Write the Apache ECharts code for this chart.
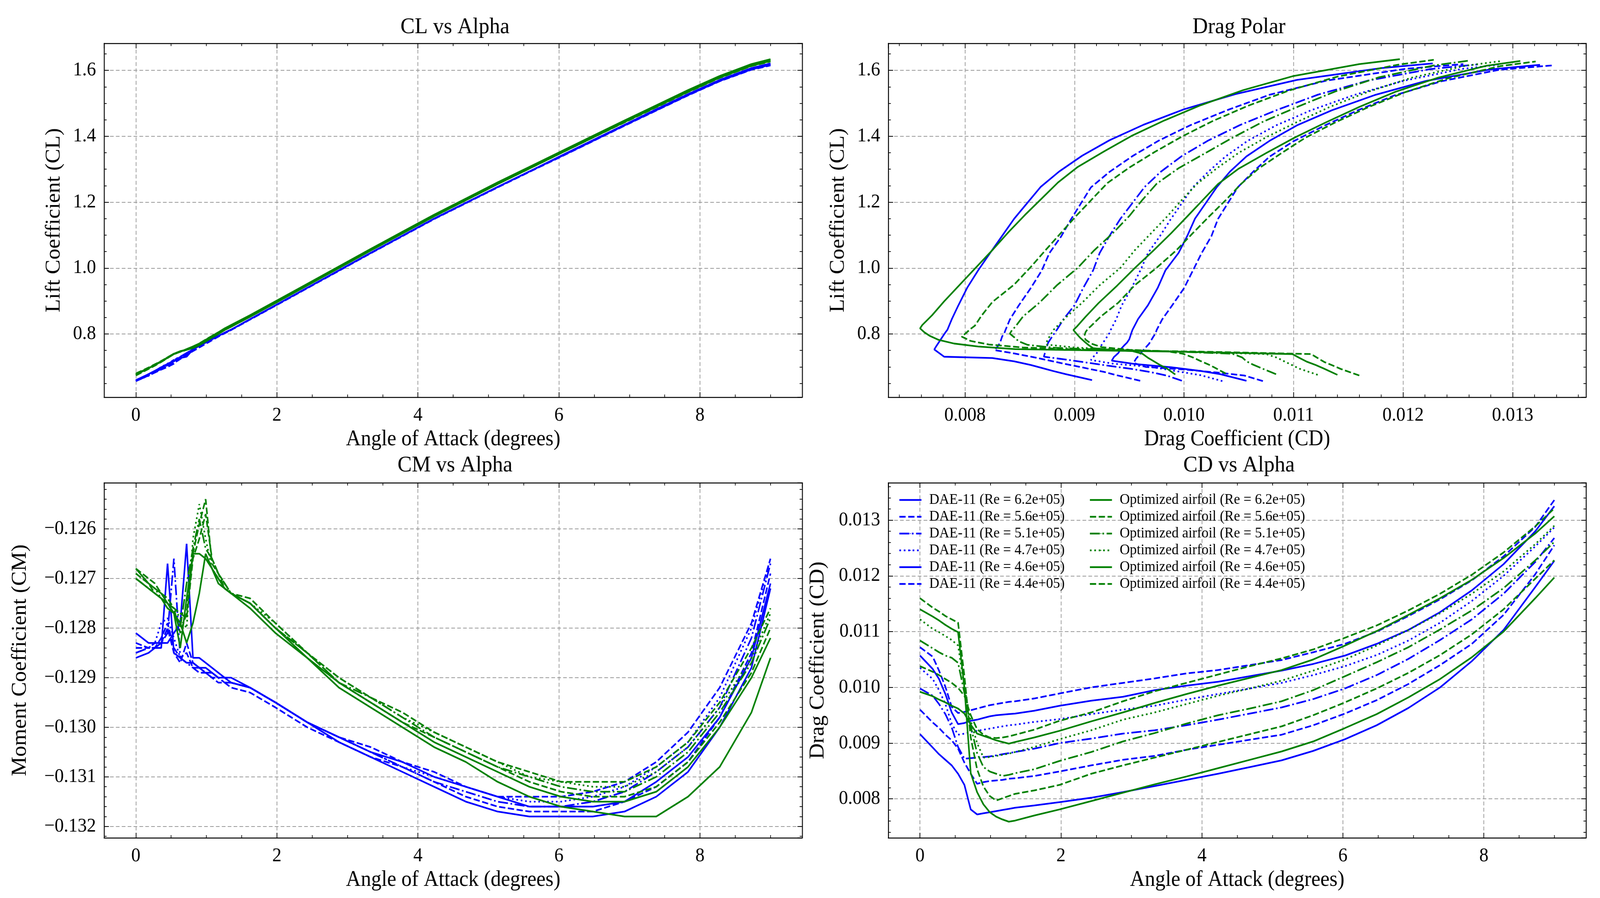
<!DOCTYPE html>
<html>
<head>
<meta charset="utf-8">
<script src="https://cdn.jsdelivr.net/npm/echarts@6/dist/echarts.min.js"></script>
<style>
  html, body { margin: 0; padding: 0; background: #fff; overflow: hidden; }
  #main { width: 4350px; height: 2299px; transform-origin: 0 0; }
</style>
</head>
<body>
<div id="main"></div>
<script>
// angle of attack samples (degrees), shared by every run
var alpha = [0, 0.18, 0.27, 0.36, 0.45, 0.54, 0.63, 0.72, 0.81, 0.9, 0.99, 1.08, 1.17, 1.26, 1.35,
  1.62, 1.98, 2.43, 2.88, 3.33, 3.78, 4.23, 4.68, 5.13, 5.58, 6.03, 6.48, 6.93, 7.38, 7.83, 8.28, 8.73, 9.0];

// DAE-11
var dae62Cl = [0.660, 0.678, 0.688, 0.697, 0.706, 0.717, 0.727, 0.731, 0.753, 0.764, 0.774, 0.784, 0.794, 0.804, 0.813,
  0.845, 0.887, 0.940, 0.993, 1.046, 1.098, 1.150, 1.198, 1.246, 1.293, 1.341, 1.388, 1.435, 1.482, 1.528, 1.571, 1.607, 1.621];
var dae62Cd = [0.00916, 0.00892, 0.00880, 0.00870, 0.00860, 0.00845, 0.00825, 0.00781, 0.00772, 0.00774, 0.00776, 0.00778, 0.00780, 0.00782, 0.00784,
  0.00788, 0.00794, 0.00802, 0.00812, 0.00823, 0.00834, 0.00845, 0.00857, 0.00869, 0.00886, 0.00907, 0.00932, 0.00963, 0.01000, 0.01047, 0.01103, 0.01180, 0.01227];
var dae62Cm = [-0.1281, -0.1283, -0.1283, -0.1283, -0.1283, -0.1281, -0.1279, -0.1263, -0.1286, -0.1286, -0.1287, -0.1288, -0.1289, -0.1290, -0.1290,
  -0.1292, -0.1295, -0.1299, -0.1303, -0.1306, -0.1309, -0.1312, -0.1315, -0.1317, -0.1318, -0.1318, -0.1318, -0.1317, -0.1314, -0.1309, -0.1300, -0.1288, -0.1272];

var dae56Cl = [0.658, 0.676, 0.685, 0.693, 0.700, 0.710, 0.728, 0.741, 0.751, 0.763, 0.773, 0.783, 0.793, 0.803, 0.812,
  0.844, 0.886, 0.939, 0.992, 1.045, 1.097, 1.149, 1.197, 1.245, 1.292, 1.340, 1.387, 1.434, 1.480, 1.526, 1.569, 1.605, 1.619];
var dae56Cd = [0.00960, 0.00937, 0.00927, 0.00915, 0.00905, 0.00890, 0.00865, 0.00845, 0.00827, 0.00830, 0.00832, 0.00833, 0.00834, 0.00836, 0.00837,
  0.00841, 0.00849, 0.00860, 0.00870, 0.00877, 0.00888, 0.00897, 0.00906, 0.00915, 0.00932, 0.00953, 0.00977, 0.01006, 0.01040, 0.01078, 0.01130, 0.01203, 0.01255];
var dae56Cm = [-0.1283, -0.1284, -0.1284, -0.1282, -0.1279, -0.1284, -0.1286, -0.1285, -0.1288, -0.1289, -0.1289, -0.1290, -0.1291, -0.1291, -0.1292,
  -0.1293, -0.1296, -0.1300, -0.1303, -0.1306, -0.1308, -0.1311, -0.1314, -0.1316, -0.1317, -0.1317, -0.1317, -0.1315, -0.1312, -0.1307, -0.1298, -0.1285, -0.1269];

var dae51Cl = [0.658, 0.673, 0.684, 0.694, 0.705, 0.722, 0.731, 0.742, 0.753, 0.764, 0.774, 0.784, 0.794, 0.804, 0.813,
  0.845, 0.887, 0.940, 0.993, 1.046, 1.098, 1.150, 1.198, 1.246, 1.293, 1.340, 1.387, 1.434, 1.480, 1.526, 1.569, 1.604, 1.618];
var dae51Cd = [0.00998, 0.00985, 0.00970, 0.00952, 0.00928, 0.00893, 0.00872, 0.00873, 0.00874, 0.00875, 0.00876, 0.00878, 0.00880, 0.00882, 0.00884,
  0.00890, 0.00900, 0.00908, 0.00917, 0.00923, 0.00932, 0.00942, 0.00953, 0.00964, 0.00979, 0.00998, 0.01022, 0.01051, 0.01085, 0.01122, 0.01168, 0.01225, 0.01268];
var dae51Cm = [-0.1285, -0.1284, -0.1284, -0.1283, -0.1281, -0.1266, -0.1286, -0.1287, -0.1288, -0.1288, -0.1289, -0.1290, -0.1290, -0.1291, -0.1291,
  -0.1292, -0.1295, -0.1299, -0.1302, -0.1305, -0.1308, -0.1311, -0.1313, -0.1315, -0.1316, -0.1316, -0.1315, -0.1313, -0.1309, -0.1304, -0.1296, -0.1282, -0.1267];

var dae47Cl = [0.657, 0.675, 0.686, 0.700, 0.710, 0.721, 0.730, 0.740, 0.752, 0.763, 0.773, 0.783, 0.793, 0.803, 0.812,
  0.844, 0.886, 0.939, 0.992, 1.045, 1.097, 1.149, 1.197, 1.245, 1.292, 1.339, 1.386, 1.433, 1.479, 1.525, 1.568, 1.604, 1.617];
var dae47Cd = [0.01035, 0.01015, 0.00995, 0.00970, 0.00935, 0.00915, 0.00917, 0.00920, 0.00922, 0.00924, 0.00926, 0.00928, 0.00930, 0.00932, 0.00933,
  0.00938, 0.00943, 0.00952, 0.00960, 0.00967, 0.00978, 0.00988, 0.00998, 0.01008, 0.01022, 0.01038, 0.01058, 0.01084, 0.01116, 0.01155, 0.01200, 0.01253, 0.01287];
var dae47Cm = [-0.1285, -0.1284, -0.1283, -0.1279, -0.1278, -0.1282, -0.1286, -0.1287, -0.1287, -0.1288, -0.1289, -0.1289, -0.1290, -0.1291, -0.1291,
  -0.1292, -0.1295, -0.1299, -0.1302, -0.1305, -0.1308, -0.1310, -0.1312, -0.1314, -0.1315, -0.1315, -0.1314, -0.1312, -0.1308, -0.1303, -0.1294, -0.1280, -0.1266];

var dae46Cl = [0.658, 0.678, 0.688, 0.699, 0.709, 0.719, 0.730, 0.742, 0.753, 0.764, 0.774, 0.784, 0.794, 0.804, 0.813,
  0.845, 0.887, 0.940, 0.993, 1.046, 1.098, 1.150, 1.198, 1.246, 1.293, 1.339, 1.386, 1.433, 1.479, 1.525, 1.568, 1.603, 1.617];
var dae46Cd = [0.01057, 0.01033, 0.01015, 0.00988, 0.00955, 0.00934, 0.00936, 0.00940, 0.00942, 0.00945, 0.00948, 0.00950, 0.00951, 0.00952, 0.00953,
  0.00958, 0.00967, 0.00976, 0.00983, 0.00995, 0.01003, 0.01010, 0.01020, 0.01030, 0.01042, 0.01057, 0.01078, 0.01103, 0.01135, 0.01174, 0.01221, 0.01280, 0.01325];
var dae46Cm = [-0.1286, -0.1285, -0.1284, -0.1284, -0.1267, -0.1285, -0.1286, -0.1287, -0.1287, -0.1288, -0.1288, -0.1289, -0.1290, -0.1290, -0.1291,
  -0.1292, -0.1295, -0.1299, -0.1302, -0.1305, -0.1307, -0.1310, -0.1312, -0.1314, -0.1316, -0.1316, -0.1316, -0.1315, -0.1311, -0.1306, -0.1298, -0.1286, -0.1271];

var dae44Cl = [0.657, 0.674, 0.683, 0.692, 0.700, 0.712, 0.724, 0.736, 0.748, 0.759, 0.770, 0.781, 0.792, 0.802, 0.812,
  0.844, 0.886, 0.939, 0.992, 1.045, 1.097, 1.149, 1.197, 1.245, 1.292, 1.338, 1.385, 1.432, 1.478, 1.524, 1.567, 1.602, 1.615];
var dae44Cd = [0.01072, 0.01055, 0.01030, 0.01001, 0.00965, 0.00954, 0.00956, 0.00959, 0.00962, 0.00965, 0.00968, 0.00970, 0.00972, 0.00974, 0.00975,
  0.00980, 0.00989, 0.01000, 0.01008, 0.01016, 0.01025, 0.01031, 0.01040, 0.01049, 0.01063, 0.01078, 0.01100, 0.01128, 0.01158, 0.01192, 0.01235, 0.01288, 0.01336];
var dae44Cm = [-0.1284, -0.1284, -0.1283, -0.1283, -0.1280, -0.1285, -0.1287, -0.1283, -0.1287, -0.1288, -0.1289, -0.1289, -0.1290, -0.1290, -0.1291,
  -0.1292, -0.1295, -0.1299, -0.1302, -0.1304, -0.1307, -0.1309, -0.1312, -0.1314, -0.1314, -0.1314, -0.1313, -0.1311, -0.1307, -0.1301, -0.1292, -0.1279, -0.1266];

// Optimized airfoil
var opt62Cl = [0.676, 0.696, 0.706, 0.716, 0.728, 0.739, 0.746, 0.754, 0.762, 0.771, 0.782, 0.794, 0.805, 0.817, 0.827,
  0.857, 0.899, 0.952, 1.005, 1.058, 1.110, 1.162, 1.211, 1.260, 1.307, 1.354, 1.401, 1.448, 1.494, 1.540, 1.583, 1.619, 1.634];
var opt62Cd = [0.01140, 0.01127, 0.01120, 0.01112, 0.01105, 0.01099, 0.01000, 0.00846, 0.00812, 0.00790, 0.00776, 0.00768, 0.00763, 0.00759, 0.00761,
  0.00770, 0.00781, 0.00796, 0.00811, 0.00826, 0.00840, 0.00855, 0.00870, 0.00885, 0.00903, 0.00927, 0.00952, 0.00982, 0.01015, 0.01054, 0.01100, 0.01160, 0.01197];
var opt62Cm = [-0.1268, -0.1271, -0.1272, -0.1273, -0.1275, -0.1277, -0.1284, -0.1274, -0.1265, -0.1265, -0.1266, -0.1268, -0.1270, -0.1272, -0.1273,
  -0.1276, -0.1281, -0.1286, -0.1292, -0.1296, -0.1300, -0.1304, -0.1307, -0.1311, -0.1314, -0.1316, -0.1317, -0.1318, -0.1318, -0.1314, -0.1308, -0.1297, -0.1286];

var opt56Cl = [0.674, 0.694, 0.704, 0.715, 0.727, 0.739, 0.746, 0.752, 0.759, 0.768, 0.779, 0.792, 0.803, 0.815, 0.825,
  0.855, 0.897, 0.950, 1.003, 1.056, 1.108, 1.160, 1.209, 1.258, 1.305, 1.352, 1.399, 1.446, 1.492, 1.538, 1.581, 1.617, 1.632];
var opt56Cd = [0.01160, 0.01143, 0.01136, 0.01128, 0.01122, 0.01116, 0.01020, 0.00910, 0.00853, 0.00822, 0.00805, 0.00797, 0.00801, 0.00805, 0.00809,
  0.00815, 0.00825, 0.00845, 0.00860, 0.00874, 0.00888, 0.00902, 0.00916, 0.00930, 0.00950, 0.00973, 0.00998, 0.01026, 0.01058, 0.01095, 0.01140, 0.01195, 0.01228];
var opt56Cm = [-0.1269, -0.1271, -0.1273, -0.1274, -0.1275, -0.1276, -0.1281, -0.1277, -0.1265, -0.1259, -0.1254, -0.1267, -0.1269, -0.1272, -0.1273,
  -0.1275, -0.1280, -0.1285, -0.1291, -0.1295, -0.1299, -0.1302, -0.1305, -0.1308, -0.1311, -0.1313, -0.1314, -0.1314, -0.1312, -0.1307, -0.1299, -0.1289, -0.1280];

var opt51Cl = [0.678, 0.697, 0.707, 0.717, 0.729, 0.740, 0.747, 0.752, 0.758, 0.767, 0.778, 0.790, 0.801, 0.812, 0.822,
  0.853, 0.895, 0.948, 1.001, 1.054, 1.106, 1.158, 1.207, 1.256, 1.303, 1.350, 1.397, 1.444, 1.490, 1.536, 1.579, 1.615, 1.630];
var opt51Cd = [0.01084, 0.01070, 0.01063, 0.01057, 0.01053, 0.01044, 0.00990, 0.00930, 0.00882, 0.00857, 0.00849, 0.00845, 0.00841, 0.00843, 0.00846,
  0.00853, 0.00868, 0.00884, 0.00903, 0.00918, 0.00935, 0.00950, 0.00962, 0.00975, 0.00995, 0.01020, 0.01045, 0.01072, 0.01104, 0.01138, 0.01178, 0.01228, 0.01261];
var opt51Cm = [-0.1270, -0.1272, -0.1273, -0.1274, -0.1275, -0.1277, -0.1280, -0.1271, -0.1264, -0.1258, -0.1264, -0.1266, -0.1269, -0.1271, -0.1273,
  -0.1275, -0.1280, -0.1285, -0.1291, -0.1294, -0.1298, -0.1302, -0.1305, -0.1308, -0.1310, -0.1312, -0.1313, -0.1313, -0.1310, -0.1305, -0.1297, -0.1287, -0.1278];

var opt47Cl = [0.676, 0.695, 0.705, 0.716, 0.728, 0.739, 0.746, 0.752, 0.759, 0.768, 0.779, 0.791, 0.802, 0.813, 0.823,
  0.853, 0.895, 0.948, 1.001, 1.054, 1.106, 1.158, 1.207, 1.256, 1.303, 1.350, 1.397, 1.443, 1.489, 1.535, 1.578, 1.614, 1.6285];
var opt47Cd = [0.01122, 0.01105, 0.01099, 0.01092, 0.01085, 0.01075, 0.01000, 0.00940, 0.00900, 0.00874, 0.00875, 0.00877, 0.00879, 0.00881, 0.00884,
  0.00893, 0.00907, 0.00923, 0.00942, 0.00955, 0.00970, 0.00985, 0.00998, 0.01012, 0.01030, 0.01050, 0.01075, 0.01103, 0.01133, 0.01168, 0.01208, 0.01257, 0.01290];
var opt47Cm = [-0.1269, -0.1271, -0.1272, -0.1274, -0.1275, -0.1276, -0.1278, -0.1280, -0.1262, -0.1255, -0.1262, -0.1268, -0.1270, -0.1272, -0.1273,
  -0.1275, -0.1279, -0.1285, -0.1290, -0.1294, -0.1298, -0.1301, -0.1304, -0.1307, -0.1310, -0.1311, -0.1312, -0.1312, -0.1309, -0.1304, -0.1296, -0.1286, -0.1277];

var opt46Cl = [0.677, 0.696, 0.706, 0.716, 0.728, 0.740, 0.748, 0.752, 0.757, 0.766, 0.777, 0.789, 0.800, 0.812, 0.822,
  0.852, 0.894, 0.947, 1.000, 1.053, 1.105, 1.157, 1.206, 1.255, 1.302, 1.349, 1.396, 1.443, 1.489, 1.535, 1.578, 1.614, 1.6285];
var opt46Cd = [0.00992, 0.00984, 0.00978, 0.00973, 0.00967, 0.00962, 0.00953, 0.00933, 0.00917, 0.00913, 0.00909, 0.00905, 0.00902, 0.00899, 0.00902,
  0.00910, 0.00922, 0.00939, 0.00955, 0.00972, 0.00988, 0.01003, 0.01017, 0.01031, 0.01050, 0.01075, 0.01101, 0.01130, 0.01160, 0.01193, 0.01232, 0.01276, 0.01307];
var opt46Cm = [-0.1270, -0.1272, -0.1273, -0.1274, -0.1276, -0.1277, -0.1279, -0.1283, -0.1279, -0.1273, -0.1265, -0.1268, -0.1271, -0.1272, -0.1273,
  -0.1275, -0.1280, -0.1286, -0.1291, -0.1295, -0.1299, -0.1303, -0.1306, -0.1309, -0.1312, -0.1314, -0.1315, -0.1315, -0.1313, -0.1308, -0.1300, -0.1290, -0.1282];

var opt44Cl = [0.680, 0.698, 0.708, 0.718, 0.729, 0.740, 0.747, 0.752, 0.760, 0.771, 0.783, 0.794, 0.805, 0.815, 0.824,
  0.853, 0.895, 0.948, 1.001, 1.054, 1.106, 1.157, 1.206, 1.255, 1.302, 1.349, 1.396, 1.442, 1.488, 1.534, 1.577, 1.613, 1.627];
var opt44Cd = [0.01038, 0.01028, 0.01022, 0.01015, 0.01008, 0.00999, 0.00985, 0.00950, 0.00925, 0.00915, 0.00910, 0.00909, 0.00910, 0.00912, 0.00915,
  0.00924, 0.00940, 0.00955, 0.00975, 0.00993, 0.01008, 0.01023, 0.01038, 0.01052, 0.01068, 0.01089, 0.01111, 0.01138, 0.01168, 0.01202, 0.01242, 0.01289, 0.01321];
var opt44Cm = [-0.1268, -0.1270, -0.1271, -0.1273, -0.1274, -0.1276, -0.1277, -0.1278, -0.1266, -0.1262, -0.1257, -0.1266, -0.1269, -0.1271, -0.1273,
  -0.1274, -0.1279, -0.1285, -0.1290, -0.1294, -0.1297, -0.1301, -0.1304, -0.1307, -0.1309, -0.1311, -0.1311, -0.1311, -0.1308, -0.1303, -0.1295, -0.1284, -0.1276];

var FONT = 'Liberation Serif';
var BLUE = '#0000ff';
var GREEN = '#008000';
var LINE_W = 4.3;
var DASHES = { solid: 'solid', dashed: [17, 7], dashdot: [27, 7, 4.5, 7], dotted: [4.5, 7.5] };

var runs = [
  { name: 'DAE-11 (Re = 6.2e+05)', color: BLUE, dash: 'solid', cl: dae62Cl, cd: dae62Cd, cm: dae62Cm },
  { name: 'DAE-11 (Re = 5.6e+05)', color: BLUE, dash: 'dashed', cl: dae56Cl, cd: dae56Cd, cm: dae56Cm },
  { name: 'DAE-11 (Re = 5.1e+05)', color: BLUE, dash: 'dashdot', cl: dae51Cl, cd: dae51Cd, cm: dae51Cm },
  { name: 'DAE-11 (Re = 4.7e+05)', color: BLUE, dash: 'dotted', cl: dae47Cl, cd: dae47Cd, cm: dae47Cm },
  { name: 'DAE-11 (Re = 4.6e+05)', color: BLUE, dash: 'solid', cl: dae46Cl, cd: dae46Cd, cm: dae46Cm },
  { name: 'DAE-11 (Re = 4.4e+05)', color: BLUE, dash: 'dashed', cl: dae44Cl, cd: dae44Cd, cm: dae44Cm },
  { name: 'Optimized airfoil (Re = 6.2e+05)', color: GREEN, dash: 'solid', cl: opt62Cl, cd: opt62Cd, cm: opt62Cm },
  { name: 'Optimized airfoil (Re = 5.6e+05)', color: GREEN, dash: 'dashed', cl: opt56Cl, cd: opt56Cd, cm: opt56Cm },
  { name: 'Optimized airfoil (Re = 5.1e+05)', color: GREEN, dash: 'dashdot', cl: opt51Cl, cd: opt51Cd, cm: opt51Cm },
  { name: 'Optimized airfoil (Re = 4.7e+05)', color: GREEN, dash: 'dotted', cl: opt47Cl, cd: opt47Cd, cm: opt47Cm },
  { name: 'Optimized airfoil (Re = 4.6e+05)', color: GREEN, dash: 'solid', cl: opt46Cl, cd: opt46Cd, cm: opt46Cm },
  { name: 'Optimized airfoil (Re = 4.4e+05)', color: GREEN, dash: 'dashed', cl: opt44Cl, cd: opt44Cd, cm: opt44Cm }
];

function fmtInt(v) { return String(Math.round(v)); }
function fmt1(v) { return v.toFixed(1); }
function fmt3(v) { return v.toFixed(3); }
function fmtNeg3(v) { return (v < 0 ? '\u2212' : '') + Math.abs(v).toFixed(3); }

var AOA = { min: -0.45, max: 9.45, split: 5, major: 2, minor: 0.5, fmt: fmtInt, name: 'Angle of Attack (degrees)' };
var CLAX = { min: 0.608, max: 1.682, split: 5, major: 0.2, minor: 0.05, fmt: fmt1, name: 'Lift Coefficient (CL)' };
var CDAX = { min: 0.0073, max: 0.01367, split: 6, major: 0.001, minor: 0.0002, fmt: fmt3 };

var panels = [
  { title: 'CL vs Alpha', titleY: 36, box: { left: 283, top: 111, width: 1898, height: 906 },
    x: AOA, y: CLAX, yGap: 108, xy: function (r, i) { return [alpha[i], r.cl[i]]; } },
  { title: 'Drag Polar', titleY: 36, box: { left: 2415, top: 111, width: 1897, height: 906 },
    x: Object.assign({}, CDAX, { name: 'Drag Coefficient (CD)' }), y: CLAX, yGap: 108,
    xy: function (r, i) { return [r.cd[i], r.cl[i]]; } },
  { title: 'CM vs Alpha', titleY: 1158, box: { left: 283, top: 1236, width: 1898, height: 909 },
    x: AOA, y: { min: -0.13223, max: -0.12507, split: 7, major: 0.001, minor: 0.0002, fmt: fmtNeg3, name: 'Moment Coefficient (CM)' },
    yGap: 200, xy: function (r, i) { return [alpha[i], r.cm[i]]; } },
  { title: 'CD vs Alpha', titleY: 1158, box: { left: 2415, top: 1236, width: 1897, height: 909 },
    x: AOA, y: Object.assign({}, CDAX, { name: 'Drag Coefficient (CD)' }), yGap: 163,
    xy: function (r, i) { return [alpha[i], r.cd[i]]; } }
];

function minorValues(ax) {
  var out = [];
  var k0 = Math.ceil(ax.min / ax.minor - 1e-9), k1 = Math.floor(ax.max / ax.minor + 1e-9);
  for (var k = k0; k <= k1; k++) {
    var v = k * ax.minor;
    var r = v / ax.major;
    if (Math.abs(r - Math.round(r)) > 1e-6) out.push(+v.toFixed(8));
  }
  return out;
}

// four axes per side of each panel: labelled main, plain opposite, and minor ticks on both
function buildAxes(dim, ax, gi, nameGap) {
  var sides = dim === 'x' ? ['bottom', 'top'] : ['left', 'right'];
  var base = { type: 'value', gridIndex: gi, min: ax.min, max: ax.max, splitNumber: ax.split };
  var list = [];
  var main = Object.assign({}, base, {
    position: sides[0],
    axisLine: { show: true, onZero: false, lineStyle: { color: '#000', width: 2.5 } },
    axisTick: { show: true, inside: true, length: 13, lineStyle: { color: '#000', width: 2 } },
    axisLabel: { show: true, margin: 22, fontSize: 50, fontFamily: FONT, color: '#000',
      formatter: ax.fmt, showMinLabel: false, showMaxLabel: false },
    splitLine: { show: true, showMinLine: false, showMaxLine: false,
      lineStyle: { color: '#9a9a9a', width: 2, type: [10, 6] } },
    name: ax.name, nameLocation: 'middle', nameGap: nameGap,
    nameTextStyle: { fontSize: 56, fontFamily: FONT, color: '#000' }
  });
  if (dim === 'y') main.nameRotate = 90;
  list.push(main);
  list.push(Object.assign({}, base, {
    position: sides[1],
    axisLine: { show: true, onZero: false, lineStyle: { color: '#000', width: 2.5 } },
    axisTick: { show: true, inside: true, length: 13, lineStyle: { color: '#000', width: 2 } },
    axisLabel: { show: false }, splitLine: { show: false }
  }));
  var minors = minorValues(ax);
  for (var s = 0; s < 2; s++) {
    list.push(Object.assign({}, base, {
      position: sides[s],
      axisLine: { show: false, onZero: false },
      axisTick: { show: true, inside: true, length: 7, customValues: minors, lineStyle: { color: '#000', width: 1.8 } },
      axisLabel: { show: false }, splitLine: { show: false }
    }));
  }
  return list;
}

var grids = [], xAxes = [], yAxes = [], series = [], titles = [];
panels.forEach(function (p, gi) {
  grids.push(Object.assign({ containLabel: false }, p.box));
  xAxes = xAxes.concat(buildAxes('x', p.x, gi, 80));
  yAxes = yAxes.concat(buildAxes('y', p.y, gi, p.yGap));
  titles.push({ text: p.title, left: p.box.left + p.box.width / 2, top: p.titleY, textAlign: 'center',
    textStyle: { fontSize: 58, fontFamily: FONT, fontWeight: 'normal', color: '#000' } });
  runs.forEach(function (r) {
    series.push({
      type: 'line', name: r.name, xAxisIndex: gi * 4, yAxisIndex: gi * 4,
      data: alpha.map(function (a, i) { return p.xy(r, i); }),
      symbol: 'none', showSymbol: false, clip: true, animation: false,
      itemStyle: { color: r.color },
      lineStyle: { color: r.color, width: LINE_W, type: DASHES[r.dash] },
      emphasis: { disabled: true }
    });
  });
});

// tiny itemHeight keeps the legend's marker dot hidden under the line sample
function legendFor(names, left) {
  return {
    data: names, orient: 'vertical', left: left, top: 1256,
    itemWidth: 60, itemHeight: 3, itemGap: 5, selectedMode: false,
    lineStyle: { width: LINE_W },
    textStyle: { fontSize: 38, lineHeight: 38, fontFamily: FONT, color: '#000', padding: [0, 0, 0, 16] }
  };
}

// the chart is laid out on a 4350 x 2299 page; stretch it onto whatever viewport we get
var dom = document.getElementById('main');
var sx = window.innerWidth / 4350, sy = window.innerHeight / 2299;
if (sx > 0 && sy > 0 && (Math.abs(sx - 1) > 0.001 || Math.abs(sy - 1) > 0.001)) {
  dom.style.transform = 'scale(' + sx + ',' + sy + ')';
}

var chart = echarts.init(dom, null, { renderer: 'canvas' });
chart.setOption({
  animation: false,
  backgroundColor: '#fff',
  title: titles,
  grid: grids,
  xAxis: xAxes,
  yAxis: yAxes,
  legend: [
    legendFor(runs.slice(0, 6).map(function (r) { return r.name; }), 2438),
    legendFor(runs.slice(6).map(function (r) { return r.name; }), 2956)
  ],
  series: series
});
</script>
</body>
</html>
